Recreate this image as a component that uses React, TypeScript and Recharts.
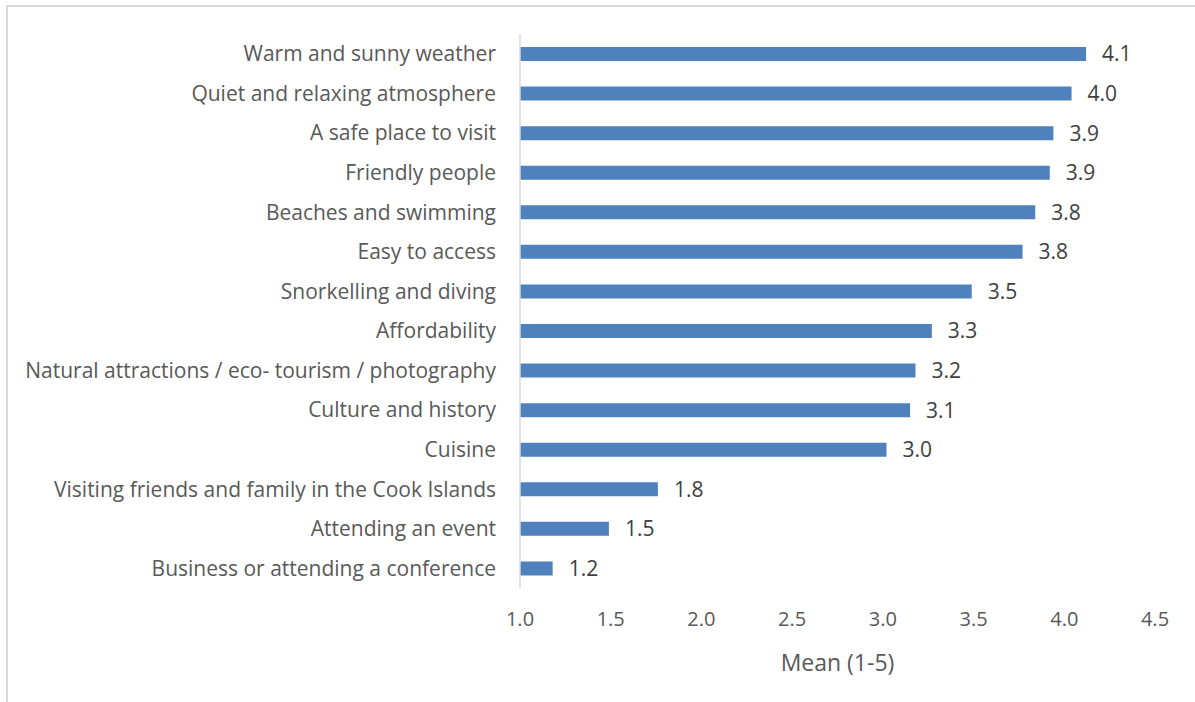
import { Bar, BarChart, Label, LabelList, XAxis, YAxis } from "recharts";

const categories = [
  "Warm and sunny weather",
  "Quiet and relaxing atmosphere",
  "A safe place to visit",
  "Friendly people",
  "Beaches and swimming",
  "Easy to access",
  "Snorkelling and diving",
  "Affordability",
  "Natural attractions / eco- tourism / photography",
  "Culture and history",
  "Cuisine",
  "Visiting friends and family in the Cook Islands",
  "Attending an event",
  "Business or attending a conference",
];

const means = [4.12, 4.04, 3.94, 3.92, 3.84, 3.77, 3.49, 3.27, 3.18, 3.15, 3.02, 1.76, 1.49, 1.18];

const xTicks = [1.0, 1.5, 2.0, 2.5, 3.0, 3.5, 4.0, 4.5];

const data = categories.map((name, i) => ({ name, mean: means[i] }));

const FONT = "'Open Sans', 'Noto Sans', sans-serif";

export default function App() {
  return (
    <div
      style={{
        position: "absolute",
        left: 0,
        top: 0,
        width: 1195,
        height: 702,
        background: "#fff",
        fontFamily: FONT,
      }}
    >
      <div
        style={{
          position: "absolute",
          left: 6,
          top: 5,
          right: 0,
          bottom: 0,
          borderLeft: "2px solid #d9d9d9",
          borderTop: "2px solid #d9d9d9",
        }}
      />
      <div style={{ position: "absolute", left: 0, top: 0 }}>
        <BarChart
          width={1195}
          height={702}
          data={data}
          layout="vertical"
          margin={{ top: 34, right: 40, bottom: 0, left: 0 }}
          barSize={14}
        >
          <XAxis
            type="number"
            domain={[1, 4.5]}
            ticks={xTicks}
            tickFormatter={(v: number) => v.toFixed(1)}
            axisLine={false}
            tickLine={false}
            tickSize={0}
            tickMargin={24}
            height={114}
            tick={{ fill: "#595959", fontSize: 20, fontFamily: FONT }}
          >
            <Label
              value="Mean (1-5)"
              position="insideBottom"
              offset={31}
              fill="#595959"
              fontSize={23}
              fontFamily={FONT}
            />
          </XAxis>
          <YAxis
            type="category"
            dataKey="name"
            width={520}
            axisLine={{ stroke: "#d9d9d9", strokeWidth: 1.5 }}
            tickLine={false}
            tickSize={0}
            tickMargin={24}
            interval={0}
            tick={{ fill: "#595959", fontSize: 21, fontFamily: FONT }}
          />
          <Bar dataKey="mean" fill="#4f81bd" isAnimationActive={false}>
            <LabelList
              dataKey="mean"
              position="right"
              offset={16}
              formatter={(v: number) => Number(v).toFixed(1)}
              fill="#404040"
              fontSize={21}
              fontFamily={FONT}
            />
          </Bar>
        </BarChart>
      </div>
    </div>
  );
}
